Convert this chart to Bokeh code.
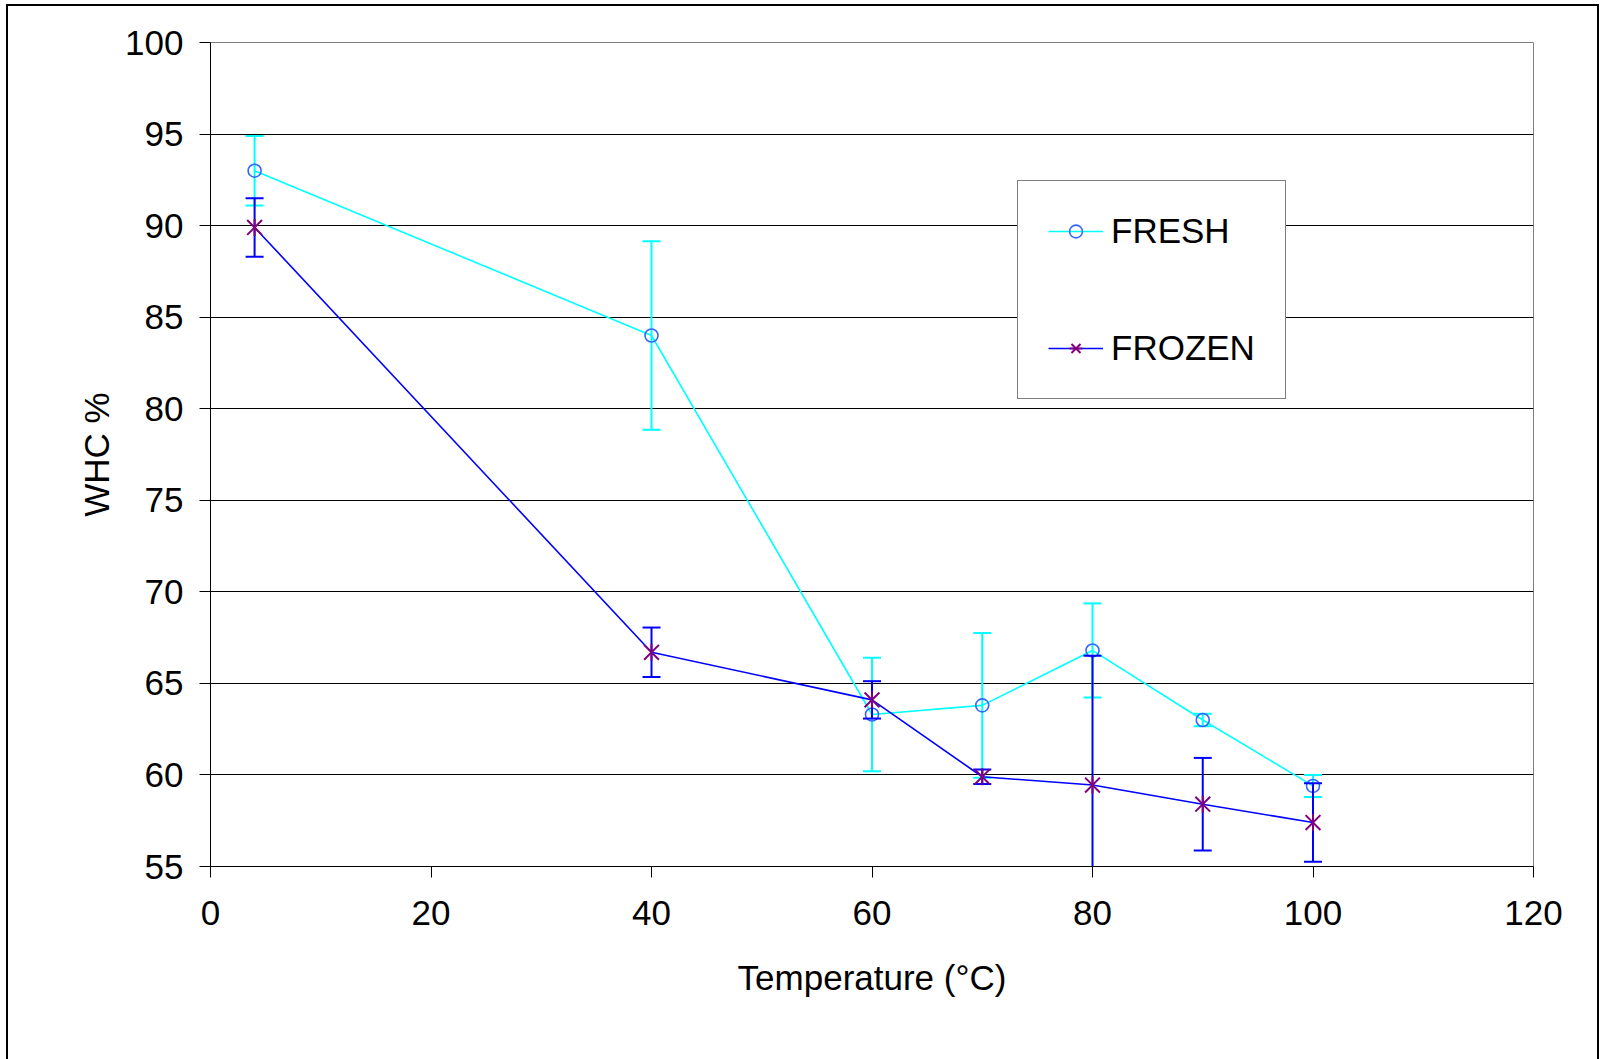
from bokeh.plotting import figure
from bokeh.models import Range1d, FixedTicker, Legend, LegendItem, ColumnDataSource
from bokeh.embed import file_html
from bokeh.resources import INLINE
import math

# ---- data ----
temps = [4, 40, 60, 70, 80, 90, 100]
fresh = [93.0, 84.0, 63.3, 63.8, 66.8, 63.0, 59.4]
fresh_err = [1.9, 5.15, 3.1, 3.95, 2.57, 0.34, 0.6]
frozen = [89.9, 66.7, 64.1, 59.9, 59.45, 58.4, 57.4]
frozen_err = [1.6, 1.35, 1.02, 0.4, 7.06, 2.53, 2.14]
x_ticks = [0, 20, 40, 60, 80, 100, 120]
y_ticks = [55, 60, 65, 70, 75, 80, 85, 90, 95, 100]
series_names = ["FRESH", "FROZEN"]
x_title = "Temperature (°C)"
y_title = "WHC %"

FONT = "Liberation Sans"

def src(vals, errs):
    return ColumnDataSource(dict(
        x=temps, y=vals,
        lo=[v - e for v, e in zip(vals, errs)],
        hi=[v + e for v, e in zip(vals, errs)],
    ))

s_fresh = src(fresh, fresh_err)
s_frozen = src(frozen, frozen_err)

p = figure(
    frame_width=1323, frame_height=824,
    min_border_left=202, min_border_top=36, min_border_right=64, min_border_bottom=200,
    x_range=Range1d(0, 120), y_range=Range1d(55, 100),
    output_backend="svg", toolbar_location=None,
    background_fill_color="white", border_fill_color="white",
)
p.styles = {"border": "2px solid black", "margin-left": "6px", "margin-top": "4px"}

p.outline_line_color = "#808080"
p.outline_line_width = 1
p.xgrid.visible = False
p.ygrid.ticker = FixedTicker(ticks=y_ticks)
p.ygrid.grid_line_color = "black"
p.ygrid.grid_line_width = 1

for ax, ticks in ((p.xaxis[0], x_ticks), (p.yaxis[0], y_ticks)):
    ax.ticker = FixedTicker(ticks=ticks)
    ax.minor_tick_line_color = None
    ax.major_tick_out = 11
    ax.major_tick_in = 0
    ax.major_tick_line_color = "black"
    ax.axis_line_color = "black"
    ax.major_label_text_font = FONT
    ax.major_label_text_font_size = "35px"
    ax.major_label_text_color = "black"
    ax.axis_label_text_font = FONT
    ax.axis_label_text_font_size = "35px"
    ax.axis_label_text_font_style = "normal"
    ax.axis_label_text_color = "black"

p.xaxis.axis_label = x_title
p.yaxis.axis_label = y_title
p.xaxis.major_label_standoff = 23
p.xaxis.axis_label_standoff = 30
p.yaxis.major_label_standoff = 16
p.yaxis.axis_label_standoff = 6

# ---- FRESH ----
p.segment(x0="x", y0="lo", x1="x", y1="hi", source=s_fresh, line_color="#00FFFF", line_width=2)
p.scatter(x="x", y="lo", source=s_fresh, marker="dash", size=18, line_color="#00FFFF", line_width=2)
p.scatter(x="x", y="hi", source=s_fresh, marker="dash", size=18, line_color="#00FFFF", line_width=2)
fresh_line = p.line(x="x", y="y", source=s_fresh, line_color="#00FFFF", line_width=1.6)
fresh_mark = p.scatter(x="x", y="y", source=s_fresh, marker="circle", size=13,
                       fill_color=None, line_color="#3366FF", line_width=1.6)

# ---- FROZEN ----
p.segment(x0="x", y0="lo", x1="x", y1="hi", source=s_frozen, line_color="#0000FF", line_width=2)
p.scatter(x="x", y="lo", source=s_frozen, marker="dash", size=18, line_color="#0000FF", line_width=2)
p.scatter(x="x", y="hi", source=s_frozen, marker="dash", size=18, line_color="#0000FF", line_width=2)
frozen_line = p.line(x="x", y="y", source=s_frozen, line_color="#0000FF", line_width=1.6)
frozen_x = p.scatter(x="x", y="y", source=s_frozen, marker="x", size=21,
                     line_color="#800080", line_width=2)
frozen_v = p.scatter(x="x", y="y", source=s_frozen, marker="dash", size=17, angle=math.pi / 2,
                     line_color="#800080", line_width=2)

legend = Legend(
    items=[
        LegendItem(label=series_names[0], renderers=[fresh_line, fresh_mark]),
        LegendItem(label=series_names[1], renderers=[frozen_line, frozen_x, frozen_v]),
    ],
    location=(807, 467),
    orientation="vertical",
    padding=30, spacing=77,
    glyph_width=55, glyph_height=32, label_height=32,
    label_standoff=8,
    label_text_font=FONT, label_text_font_size="35px", label_text_color="black",
    border_line_color="black", border_line_width=1,
    background_fill_color="white", background_fill_alpha=1.0,
    margin=0,
)
p.add_layout(legend, "center")

open("out.html", "w").write(file_html(p, INLINE))
